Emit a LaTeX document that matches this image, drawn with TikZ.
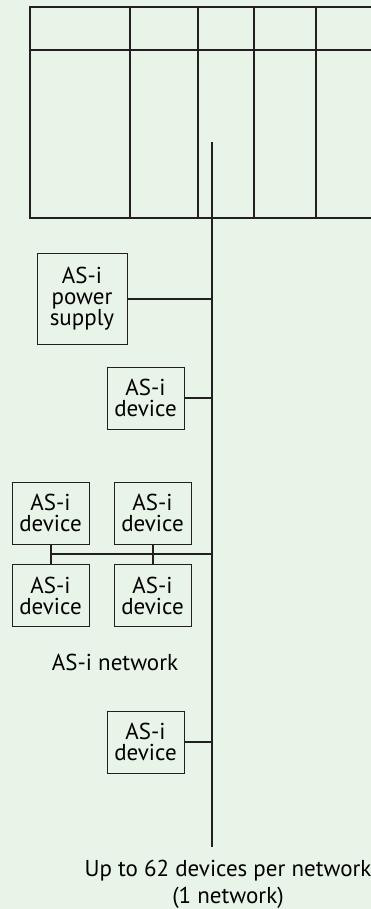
\documentclass[tikz,border=0pt]{standalone}
\usepackage{fontspec}
\setmainfont{PT Sans}
\definecolor{bgcol}{RGB}{233,244,233}
\definecolor{ink}{RGB}{35,31,32}
\tikzset{
    devbox/.style={draw=ink, line width=1pt, align=center, inner sep=0pt,
        minimum width=77pt, minimum height=62pt, font=\fontsize{23}{21}\selectfont},
    busline/.style={draw=ink, line width=2pt},
    tapline/.style={draw=ink, line width=2pt},
    frameline/.style={draw=ink, line width=2pt},
    notelabel/.style={font=\fontsize{23}{27}\selectfont, align=center, inner sep=0pt}
}
\begin{document}
\begin{tikzpicture}[x=1pt, y=-1pt]
    % Background and picture size
    \fill[bgcol] (0,0) rectangle (371,909);
    \useasboundingbox (0,0) rectangle (371,909);
    \clip (0,0) rectangle (371,909);

    % Controller frame (open to the right)
    \draw[frameline] (30,7) rectangle (380,218);
    \draw[frameline] (30,50) -- (380,50);
    \foreach \xs in {130,198,254,316}
        \draw[frameline] (\xs,7) -- (\xs,218);

    % Bus line
    \coordinate (bustop) at (212,142);
    \coordinate (busend) at (212,847);
    \draw[busline] (bustop) -- (busend);

    % Power supply and devices
    \node[devbox, minimum width=90pt, minimum height=91pt] (psu) at (82,298.5) {AS-i\\power\\supply};
    \node[devbox] (devA) at (145.5,398) {AS-i\\device};
    \node[devbox] (grpA) at (50.5,513) {AS-i\\device};
    \node[devbox] (grpB) at (152.5,513) {AS-i\\device};
    \node[devbox] (grpC) at (50.5,595.5) {AS-i\\device};
    \node[devbox] (grpD) at (152.5,595.5) {AS-i\\device};
    \node[devbox] (devB) at (145.5,742) {AS-i\\device};

    % Taps onto the bus
    \draw[tapline] (psu.east) -- (psu.east -| bustop);
    \draw[tapline] (devA.east) -- (devA.east -| bustop);
    \draw[tapline] (devB.east) -- (devB.east -| bustop);

    % Group of four devices
    \coordinate (grptap) at (212,554);
    \draw[tapline] (grptap) -- (grptap -| grpA.south);
    \draw[tapline] (grpA.south) -- (grpC.north);
    \draw[tapline] (grpB.south) -- (grpD.north);

    % Labels
    \node[notelabel] (netlabel) at (115,662) {AS-i network};
    \node[notelabel] (maxlabel) at (228,884) {Up to 62 devices per network\\(1 network)};
\end{tikzpicture}
\end{document}
